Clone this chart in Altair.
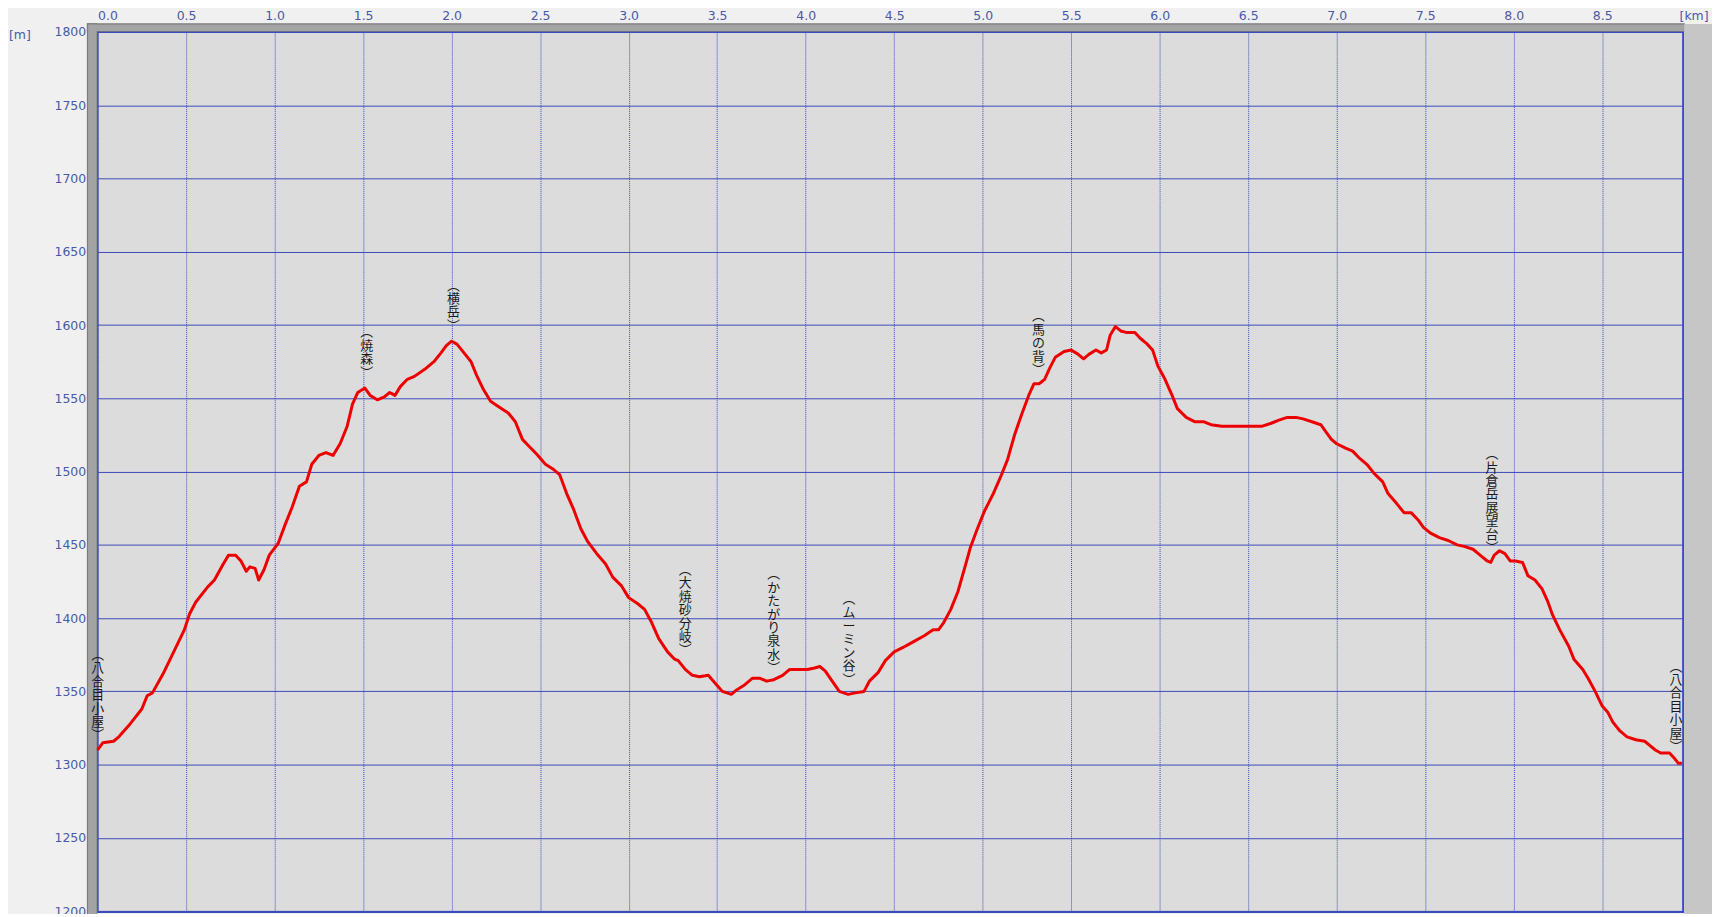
import altair as alt
import pandas as pd

# ---- profile data (distance km, elevation m) ----
dist_km = [0.00, 0.03, 0.09, 0.12, 0.185, 0.25, 0.28, 0.31, 0.37, 0.43, 0.49, 0.52, 0.555, 0.62, 0.66,
           0.71, 0.74, 0.78, 0.81, 0.84, 0.86, 0.89, 0.91, 0.94, 0.97, 1.02, 1.06, 1.10, 1.14, 1.18,
           1.21, 1.25, 1.29, 1.33, 1.37, 1.41, 1.44, 1.47, 1.51, 1.54, 1.58, 1.62, 1.65, 1.68, 1.71,
           1.75, 1.79, 1.85, 1.90, 1.94, 1.97, 2.00, 2.03, 2.07, 2.11, 2.14, 2.18, 2.22, 2.27, 2.32,
           2.36, 2.40, 2.44, 2.48, 2.53, 2.57, 2.61, 2.65, 2.69, 2.73, 2.77, 2.82, 2.87, 2.91, 2.96,
           3.00, 3.05, 3.09, 3.13, 3.17, 3.22, 3.26, 3.28, 3.32, 3.36, 3.40, 3.45, 3.50, 3.53, 3.58,
           3.61, 3.65, 3.70, 3.74, 3.78, 3.82, 3.87, 3.91, 3.96, 4.01, 4.05, 4.08, 4.11, 4.15, 4.19,
           4.24, 4.28, 4.33, 4.36, 4.41, 4.45, 4.50, 4.55, 4.61, 4.67, 4.72, 4.75, 4.78, 4.82, 4.86,
           4.90, 4.93, 4.97, 5.01, 5.06, 5.10, 5.14, 5.18, 5.22, 5.26, 5.29, 5.32, 5.35, 5.38, 5.41,
           5.46, 5.50, 5.54, 5.57, 5.60, 5.64, 5.67, 5.70, 5.72, 5.75, 5.78, 5.81, 5.86, 5.89, 5.93,
           5.96, 5.99, 6.03, 6.07, 6.10, 6.15, 6.20, 6.25, 6.29, 6.35, 6.41, 6.47, 6.54, 6.58, 6.63,
           6.67, 6.72, 6.77, 6.81, 6.86, 6.91, 6.94, 6.97, 7.00, 7.05, 7.09, 7.13, 7.17, 7.21, 7.26,
           7.29, 7.34, 7.38, 7.42, 7.46, 7.49, 7.53, 7.58, 7.63, 7.68, 7.72, 7.77, 7.81, 7.85, 7.87,
           7.89, 7.92, 7.95, 7.98, 8.01, 8.05, 8.08, 8.12, 8.16, 8.19, 8.22, 8.26, 8.31, 8.34, 8.39,
           8.42, 8.46, 8.50, 8.53, 8.56, 8.60, 8.64, 8.69, 8.74, 8.77, 8.80, 8.83, 8.88, 8.91, 8.93,
           8.95]
elev_m = [1310, 1315, 1316, 1319, 1328, 1338, 1347, 1349, 1362, 1377, 1392, 1403, 1411, 1421, 1426,
          1437, 1443, 1443, 1439, 1432, 1435, 1434, 1426, 1433, 1443, 1451, 1464, 1476, 1490, 1493,
          1505, 1511, 1513, 1511, 1519, 1531, 1546, 1554, 1557, 1552, 1549, 1551, 1554, 1552, 1558,
          1563, 1565, 1570, 1575, 1581, 1586, 1589, 1587, 1581, 1575, 1566, 1556, 1548, 1544, 1540,
          1534, 1522, 1517, 1512, 1505, 1502, 1498, 1485, 1474, 1461, 1452, 1444, 1437, 1428, 1422,
          1414, 1410, 1406, 1397, 1386, 1377, 1372, 1371, 1365, 1361, 1360, 1361, 1354, 1350, 1348,
          1351, 1354, 1359, 1359, 1357, 1358, 1361, 1365, 1365, 1365, 1366, 1367, 1364, 1357, 1350,
          1348, 1349, 1350, 1357, 1363, 1371, 1377, 1380, 1384, 1388, 1392, 1392, 1397, 1406, 1418,
          1435, 1448, 1461, 1473, 1485, 1496, 1508, 1525, 1539, 1552, 1560, 1560, 1563, 1571, 1578,
          1582, 1583, 1580, 1577, 1580, 1583, 1581, 1583, 1593, 1599, 1596, 1595, 1595, 1591, 1587,
          1583, 1572, 1563, 1552, 1543, 1537, 1534, 1534, 1532, 1531, 1531, 1531, 1531, 1531, 1533,
          1535, 1537, 1537, 1536, 1534, 1532, 1527, 1522, 1519, 1516, 1514, 1509, 1505, 1499, 1493,
          1485, 1478, 1472, 1472, 1467, 1462, 1458, 1455, 1453, 1450, 1449, 1447, 1443, 1439, 1438,
          1443, 1446, 1444, 1439, 1439, 1438, 1429, 1426, 1420, 1412, 1402, 1392, 1381, 1372, 1365,
          1359, 1350, 1340, 1336, 1329, 1323, 1319, 1317, 1316, 1313, 1310, 1308, 1308, 1304, 1301,
          1301]

# ---- waypoint annotations ----
wp_names = ["八合目小屋", "焼森", "横岳", "大焼砂分岐", "かたがり泉水", "ムーミン谷", "馬の背", "片倉岳展望台", "八合目小屋"]
wp_km = [0.0, 1.52, 2.01, 3.32, 3.82, 4.245, 5.315, 7.877, 8.917]
wp_top_m = [1379, 1599, 1631, 1437, 1434, 1417, 1610, 1516, 1371]

x_ticks = [0.0, 0.5, 1.0, 1.5, 2.0, 2.5, 3.0, 3.5, 4.0, 4.5, 5.0, 5.5, 6.0, 6.5, 7.0, 7.5, 8.0, 8.5]
y_ticks = [1200, 1250, 1300, 1350, 1400, 1450, 1500, 1550, 1600, 1650, 1700, 1750, 1800]

W, H = 1593, 884
X_MAX = 8.957
PX_PER_M = 1.4722
Y_MIN = 1800 - H / PX_PER_M

prof = pd.DataFrame({"km": dist_km, "m": elev_m})
wps = pd.DataFrame({
    "km": wp_km,
    "m": wp_top_m,
    "label": ["\n".join("︵" + n + "︶") for n in wp_names],
})

BLUE = "#3b4bbb"
LBL = "#4a58a8"

xscale = alt.Scale(domain=[0, X_MAX], nice=False, zero=False)
yscale = alt.Scale(domain=[Y_MIN, 1800], nice=False, zero=False)

xaxis = alt.Axis(orient="top", values=x_ticks, format=".1f", grid=True, gridDash=[1, 1],
                 gridColor=BLUE, gridOpacity=1, gridWidth=1, domain=False, ticks=False, tickSize=0,
                 labelColor=LBL, labelFont="DejaVu Sans", labelFontSize=12.5, labelPadding=12.5,
                 labelBaseline="alphabetic", title=None, labelFlush=True)
yaxis = alt.Axis(values=y_ticks, format="d", grid=True, gridColor=BLUE, gridOpacity=1, gridWidth=1,
                 domain=False, ticks=False, tickSize=0, labelColor=LBL, labelFont="DejaVu Sans",
                 labelFontSize=12.5, labelPadding=12, title=None, labelFlush=False)

one = pd.DataFrame({"k": [1]})

left_band = alt.Chart(one).mark_rect(
    color="#a4a4a4", stroke="#7c7c7c", strokeWidth=1.5).encode(
    x=alt.value(-10), x2=alt.value(-1), y=alt.value(-8), y2=alt.value(H + 10))
top_band = alt.Chart(one).mark_rect(
    color="#a4a4a4", stroke="#7c7c7c", strokeWidth=1.5).encode(
    x=alt.value(-10), x2=alt.value(W + 1), y=alt.value(-8), y2=alt.value(-1))
right_band = alt.Chart(one).mark_rect(color="#c6c6c6").encode(
    x=alt.value(W + 1), x2=alt.value(W + 40), y=alt.value(-8), y2=alt.value(H + 10))
top_band2 = alt.Chart(one).mark_rect(color="#a4a4a4").encode(
    x=alt.value(-9), x2=alt.value(W + 1), y=alt.value(-7.3), y2=alt.value(-1))
left_band2 = alt.Chart(one).mark_rect(color="#a4a4a4").encode(
    x=alt.value(-9.3), x2=alt.value(-1), y=alt.value(-7.3), y2=alt.value(H + 10))

base = alt.Chart(prof)

line = base.mark_line(color="#ee0000", strokeWidth=3, strokeJoin="round").encode(
    x=alt.X("km:Q", scale=xscale, axis=xaxis),
    y=alt.Y("m:Q", scale=yscale, axis=yaxis),
)

labels = alt.Chart(wps).mark_text(
    font="Noto Sans CJK JP", fontSize=13, lineHeight=13.5, align="center", baseline="top",
    color="#1a1a1a", lineBreak="\n").encode(
    x=alt.X("km:Q", scale=xscale),
    y=alt.Y("m:Q", scale=yscale),
    text="label:N",
)

km_title = alt.Chart(pd.DataFrame({"t": ["[km]"]})).mark_text(
    font="DejaVu Sans", fontSize=12.5, color=LBL, align="center", baseline="alphabetic").encode(
    text="t:N", x=alt.value(W + 11), y=alt.value(-12.5))
m_title = alt.Chart(pd.DataFrame({"t": ["[m]"]})).mark_text(
    font="DejaVu Sans", fontSize=12.5, color=LBL, align="left", baseline="middle").encode(
    text="t:N", x=alt.value(-89), y=alt.value(3))

chart = alt.layer(
    left_band, top_band, right_band, top_band2, left_band2, line, labels, km_title, m_title
).properties(
    width=W, height=H,
    padding={"left": 90, "top": 22, "right": 29, "bottom": 0},
    autosize=alt.AutoSizeParams(type="none"),
    background="#f0f0f0",
).configure_view(
    fill="#dcdcdc", stroke=BLUE, strokeWidth=2,
)

chart.save("out.html", embed_options={"renderer": "svg", "actions": False})
